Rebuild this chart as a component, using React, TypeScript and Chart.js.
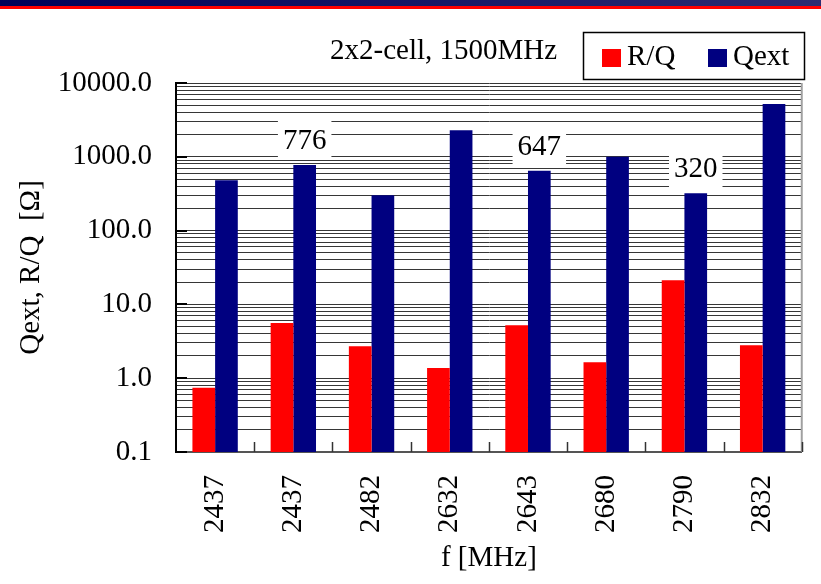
import React, { useEffect, useRef } from 'react';
import { Chart, registerables } from 'chart.js';

Chart.register(...registerables);

// Mode frequencies and their shunt impedance / external Q
const categories = ['2437', '2437', '2482', '2632', '2643', '2680', '2790', '2832'];
const rqValues = [0.74, 5.6, 2.7, 1.38, 5.2, 1.65, 21.3, 2.8];
const qextValues = [482, 776, 302, 2290, 647, 1000, 320, 5200];
// Qext bars that carry a value label
const labelledQext = [1, 4, 6];

const yDecades = [0.1, 1, 10, 100, 1000, 10000];
const yTickLabels = ['0.1', '1.0', '10.0', '100.0', '1000.0', '10000.0'];

const chartTitle = '2x2-cell, 1500MHz';
const xTitle = 'f [MHz]';
const yTitle = 'Qext, R/Q  [Ω]';

const SERIF = '"Liberation Serif", "Times New Roman", serif';
const FONT_SIZE = 29;
const RED = '#ff0000';
const NAVY = '#000080';

const decorPlugin = {
  id: 'decor',
  beforeDraw(chart: any) {
    const { ctx, width } = chart;
    ctx.save();
    const g = ctx.createLinearGradient(0, 0, width, 0);
    g.addColorStop(0, '#000058');
    g.addColorStop(1, '#2c2c72');
    ctx.fillStyle = g;
    ctx.fillRect(0, 0, width, 6);
    ctx.fillStyle = '#ff0000';
    ctx.fillRect(0, 6, width, 3);
    ctx.restore();
  },
  afterDatasetsDraw(chart: any) {
    const { ctx } = chart;
    const meta = chart.getDatasetMeta(1);
    ctx.save();
    ctx.font = `${FONT_SIZE}px ${SERIF}`;
    ctx.textAlign = 'center';
    ctx.textBaseline = 'alphabetic';
    labelledQext.forEach((i) => {
      const el = meta.data[i];
      const text = String(qextValues[i]);
      const w = ctx.measureText(text).width + 10;
      ctx.fillStyle = '#ffffff';
      ctx.fillRect(el.x - w / 2, el.y - 46, w, 41);
      ctx.fillStyle = '#000000';
      ctx.fillText(text, el.x, el.y - 16);
    });
    ctx.restore();
  },
  afterDraw(chart: any) {
    const { ctx, chartArea: a, scales } = chart;
    const xs = scales.x;
    const ys = scales.y;
    ctx.save();

    // right frame edge
    ctx.strokeStyle = '#a0a0a0';
    ctx.lineWidth = 2;
    ctx.beginPath();
    ctx.moveTo(a.right, a.top);
    ctx.lineTo(a.right, a.bottom);
    ctx.stroke();

    // inward category ticks between groups
    ctx.strokeStyle = '#333333';
    ctx.lineWidth = 1.5;
    for (let i = 1; i <= categories.length; i++) {
      const px =
        i < categories.length
          ? (xs.getPixelForValue(i - 1) + xs.getPixelForValue(i)) / 2
          : a.right;
      ctx.beginPath();
      ctx.moveTo(Math.round(px) + 0.5, a.bottom - 10);
      ctx.lineTo(Math.round(px) + 0.5, a.bottom);
      ctx.stroke();
    }

    // inward major ticks on the value axis
    ctx.strokeStyle = '#000000';
    ctx.lineWidth = 2;
    yDecades.forEach((d) => {
      const py = Math.round(ys.getPixelForValue(d));
      ctx.beginPath();
      ctx.moveTo(a.left, py);
      ctx.lineTo(a.left + 11, py);
      ctx.stroke();
    });

    // title
    ctx.fillStyle = '#000000';
    ctx.font = `${FONT_SIZE}px ${SERIF}`;
    ctx.textAlign = 'left';
    ctx.textBaseline = 'alphabetic';
    ctx.fillText(chartTitle, 330, 59);

    // legend
    ctx.fillStyle = '#ffffff';
    ctx.fillRect(583, 32, 222, 48);
    ctx.strokeStyle = '#000000';
    ctx.lineWidth = 1.5;
    ctx.strokeRect(583.5, 32.5, 221, 47);
    const items = chart.data.datasets.map((ds: any) => ({ label: ds.label, color: ds.backgroundColor }));
    const xPos = [602, 708];
    items.forEach((it: any, k: number) => {
      ctx.fillStyle = it.color;
      ctx.fillRect(xPos[k], 49, 19, 18);
      ctx.fillStyle = '#000000';
      ctx.fillText(it.label, xPos[k] + 25, 65);
    });

    ctx.restore();
  },
};

export default function App() {
  const ref = useRef<HTMLCanvasElement>(null);

  useEffect(() => {
    document.body.style.margin = '0';
    const canvas = ref.current;
    if (!canvas) return;

    const font = { family: SERIF, size: FONT_SIZE };

    const chart = new Chart(canvas, {
      type: 'bar',
      data: {
        labels: categories,
        datasets: [
          {
            label: 'R/Q',
            data: rqValues,
            backgroundColor: RED,
            borderWidth: 0,
            categoryPercentage: 0.58,
            barPercentage: 1.0,
          },
          {
            label: 'Qext',
            data: qextValues,
            backgroundColor: NAVY,
            borderWidth: 0,
            categoryPercentage: 0.58,
            barPercentage: 1.0,
          },
        ],
      },
      options: {
        responsive: false,
        animation: false,
        layout: { padding: { top: 83, right: 9, left: 0, bottom: 0 } },
        plugins: {
          legend: { display: false },
          tooltip: { enabled: false },
          title: { display: false },
        },
        scales: {
          x: {
            type: 'category',
            offset: true,
            grid: { display: false, drawTicks: false },
            border: { display: true, color: '#555555', width: 2 },
            ticks: {
              font,
              color: '#000000',
              minRotation: 90,
              maxRotation: 90,
              padding: 23,
              autoSkip: false,
            },
            title: {
              display: true,
              text: xTitle,
              font,
              color: '#000000',
              padding: { top: 0, bottom: 8 },
            },
            afterFit: (scale: any) => {
              scale.height = 132;
            },
          },
          y: {
            type: 'logarithmic',
            min: 0.1,
            max: 10000,
            grid: { color: '#363636', lineWidth: 1, drawTicks: false },
            border: { display: true, color: '#000000', width: 2 },
            afterBuildTicks: (scale: any) => {
              const ticks: { value: number }[] = [];
              for (let k = 0; k < yDecades.length - 1; k++) {
                for (let m = 1; m <= 9; m++) ticks.push({ value: yDecades[k] * m });
              }
              ticks.push({ value: yDecades[yDecades.length - 1] });
              scale.ticks = ticks;
            },
            ticks: {
              font,
              color: '#000000',
              padding: 24,
              autoSkip: false,
              callback: (value: any) => {
                const v = Number(value);
                const idx = yDecades.findIndex((d) => Math.abs(v - d) / d < 1e-9);
                return idx >= 0 ? yTickLabels[idx] : '';
              },
            },
            title: {
              display: true,
              text: yTitle,
              font,
              color: '#000000',
              padding: { top: 14, bottom: 0 },
            },
            afterFit: (scale: any) => {
              scale.width = 176;
            },
          },
        },
      },
      plugins: [decorPlugin],
    });

    return () => chart.destroy();
  }, []);

  return (
    <div style={{ width: 821, height: 584 }}>
      <canvas ref={ref} width={821} height={584} style={{ display: 'block', width: 821, height: 584 }} />
    </div>
  );
}
